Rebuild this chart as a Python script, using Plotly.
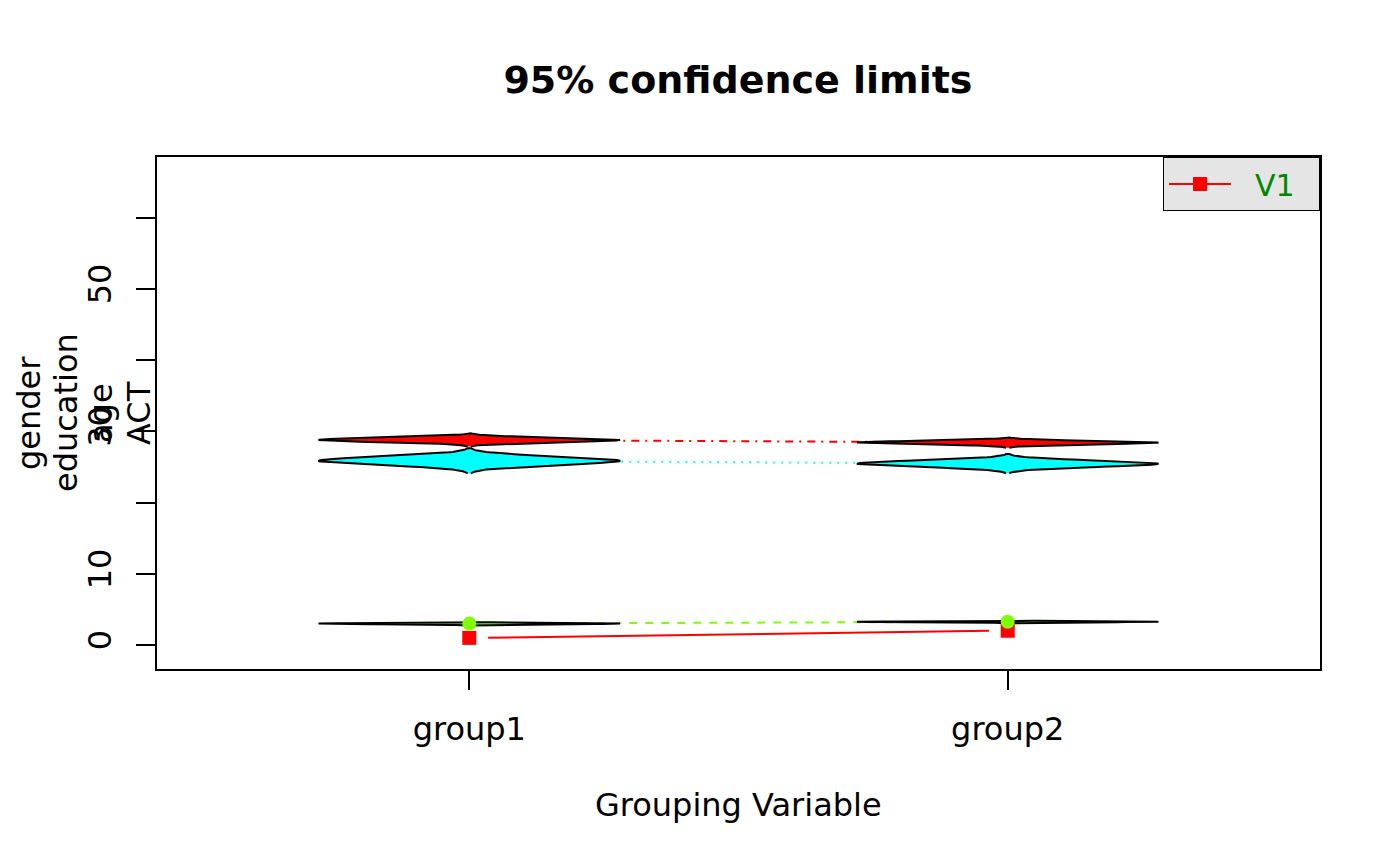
import numpy as np
import plotly.graph_objects as go

# data (psych-style error.bars.by with cats eyes)
groups = ['group1', 'group2']
group_pos = [1, 2]
variables = ['gender', 'education', 'age', 'ACT']
means = {
    'gender':    [1.00, 2.00],
    'education': [3.00, 3.26],
    'age':       [25.86, 25.45],
    'ACT':       [28.79, 28.42],
}
ses = {
    'gender':    [0.0, 0.0],
    'education': [0.09, 0.07],
    'age':       [0.59, 0.45],
    'ACT':       [0.31, 0.24],
}
ytick_vals = [0, 10, 20, 30, 40, 50, 60]
ytick_text = ['0', '10', '', '30', '', '50', '']

# styling
colors = {'gender': '#FF0000', 'education': '#80FF00', 'age': '#00FFFF', 'ACT': '#FF0000'}
dashes = {'gender': 'solid', 'education': '8px,8px', 'age': '2px,6px', 'ACT': '2px,6px,8px,6px'}
symbols = {'gender': 'square', 'education': 'circle'}
FONT = 'DejaVu Sans'
FS = 32
EYE_HALF = 0.28   # half width of a cat's eye in x units
GAP = 0.035       # type="b" gap around points

fig = go.Figure()

# connecting lines between group means
for v in variables:
    x = list(group_pos)
    if v == 'gender':
        x = [group_pos[0] + GAP, group_pos[1] - GAP]
    fig.add_trace(go.Scatter(
        x=x, y=means[v], mode='lines',
        line=dict(color=colors[v], width=2, dash=dashes[v]),
        showlegend=False, hoverinfo='skip'
    ))

# cat's eyes: normal density around each mean, +-3 se
z = np.linspace(-3, 3, 61)
dens = np.exp(-z ** 2 / 2)
for v in variables:
    for g, pos in enumerate(group_pos):
        se = ses[v][g]
        if se <= 0:
            continue
        w = EYE_HALF * dens
        xs = np.concatenate([pos - w, pos + w[::-1]])
        ys = np.concatenate([means[v][g] + z * se, means[v][g] + z[::-1] * se])
        fig.add_trace(go.Scatter(
            x=xs, y=ys, mode='lines', fill='toself',
            fillcolor=colors[v], line=dict(color='black', width=2),
            showlegend=False, hoverinfo='skip'
        ))

# points for the variables whose eyes are too thin to hide them
for v in ['gender', 'education']:
    fig.add_trace(go.Scatter(
        x=group_pos, y=means[v], mode='markers',
        marker=dict(symbol=symbols[v], size=14, color=colors[v]),
        showlegend=False, name=v
    ))

# legend entry
fig.add_trace(go.Scatter(
    x=[None], y=[None], mode='lines+markers', name='\u00a0\u00a0V1\u00a0\u00a0',
    line=dict(color='#FF0000', width=2),
    marker=dict(symbol='square', size=14, color='#FF0000')
))

ylab_shift = [-128, -91, -56, -18]
for lab, sh in zip(variables, ylab_shift):
    fig.add_annotation(
        text=lab, xref='paper', yref='paper', x=0, y=0.5, xshift=sh,
        xanchor='center', yanchor='middle', textangle=-90, showarrow=False,
        font=dict(family=FONT, size=FS, color='black')
    )
fig.add_annotation(
    text='Grouping Variable', xref='paper', yref='paper', x=0.5, y=0,
    yshift=-136, xanchor='center', yanchor='middle', showarrow=False,
    font=dict(family=FONT, size=FS, color='black')
)

fig.update_layout(
    width=1400, height=866,
    margin=dict(l=149, r=88, t=149, b=205),
    paper_bgcolor='white', plot_bgcolor='white',
    font=dict(family=FONT, size=FS, color='black'),
    title=dict(text='<b>95% confidence limits</b>', x=0.5214, xanchor='center',
               y=1 - 72 / 866, yanchor='middle', yref='container',
               font=dict(family=FONT, size=38, color='black')),
    legend=dict(x=1, y=1, xanchor='right', yanchor='top', itemwidth=62,
                bgcolor='#E5E5E5', bordercolor='black', borderwidth=1,
                font=dict(family=FONT, size=30, color='#008800')),
    xaxis=dict(range=[0.42, 2.58], tickvals=group_pos, ticktext=groups,
               showgrid=False, zeroline=False, showline=True, mirror=True,
               linecolor='black', linewidth=2, ticks='outside', ticklen=19,
               tickwidth=2, tickcolor='black', ticklabelstandoff=12),
    yaxis=dict(range=[-3.37, 68.5], tickvals=ytick_vals, ticktext=ytick_text,
               tickangle=-90, showgrid=False, zeroline=False, showline=True,
               mirror=True, linecolor='black', linewidth=2, ticks='outside',
               ticklen=19, tickwidth=2, tickcolor='black', ticklabelstandoff=12),
)

fig.write_html('out.html')
